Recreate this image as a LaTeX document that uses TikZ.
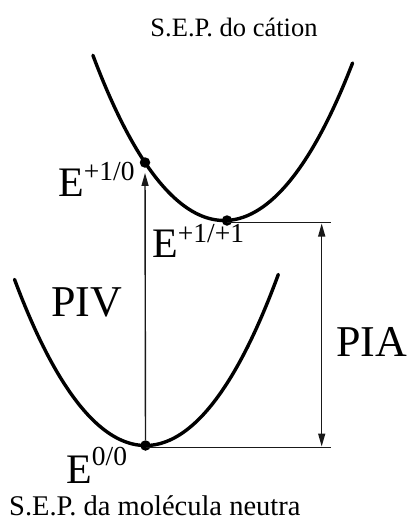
\documentclass[tikz,border=0pt]{standalone}
\usepackage{fontspec}
\setmainfont{Liberation Serif}
\usetikzlibrary{arrows.meta}
\begin{document}
\begin{tikzpicture}[x=1pt,y=-1pt,
  curve/.style={line width=3.4pt, line cap=round},
  thinline/.style={line width=1.4pt, draw=black!90},
  dot/.style={circle, fill=black, inner sep=0pt, minimum size=10.5pt},
  tip/.style={-{Triangle[length=13pt,width=7pt]}},
  dtip/.style={{Triangle[length=13pt,width=7pt]}-{Triangle[length=13pt,width=7pt]}},
  biglbl/.style={anchor=base west, inner sep=0pt, font=\fontsize{42}{42}\selectfont},
  sep/.style={inner sep=0pt, font=\fontsize{26.5}{26.5}\selectfont}]
\useasboundingbox (0,0) rectangle (412,525);
% potential energy surfaces
\draw[curve] plot[domain=-1.313:1.285, samples=120, smooth] ({224.2+100*\x}, {220.5-(90.5*\x*\x+3.1*\x*\x*\x*\x)});
\draw[curve] plot[domain=-1.31:1.33, samples=120, smooth] ({145.5+100*\x}, {445.5-(91.5*\x*\x+3.1*\x*\x*\x*\x)});
% points
\node[dot] (d10) at (145,162.5) {};
\node[dot] (d11) at (227,220.5) {};
\node[dot] (d00) at (145.5,445.5) {};
% reference lines
\coordinate (r1) at (331,222.5);
\coordinate (r0) at (331,447.5);
\draw[thinline] (d11.center |- r1) -- (r1);
\draw[thinline] (d00.center |- r0) -- (r0);
% PIV arrow
\draw[thinline, tip, shorten >=5pt] (d00) -- (d10);
% PIA arrow
\coordinate (pa1) at (321.7,223.5);
\coordinate (pa0) at (321.7,446.5);
\draw[thinline, dtip] (pa1) -- (pa0);
% labels
\node[biglbl] (le10) at (58,196) {E\raisebox{16pt}{\fontsize{27.5}{27.5}\selectfont +1/0}};
\node[biglbl] (le11) at (152,257) {E\raisebox{15pt}{\fontsize{27.5}{27.5}\selectfont +1/+1}};
\node[biglbl] (le00) at (66,483) {E\raisebox{18pt}{\fontsize{27.5}{27.5}\selectfont 0/0}};
\node[anchor=base west, inner sep=0pt, font=\fontsize{44}{44}\selectfont] (piv) at (51,316) {PIV};
\node[anchor=base west, inner sep=0pt, font=\fontsize{44}{44}\selectfont] (pia) at (336,356) {PIA};
\node[sep, anchor=base] (top) at (234,36) {S.E.P. do cátion};
\node[sep, anchor=base west, font=\fontsize{28.5}{28.5}\selectfont] (bot) at (9,515) {S.E.P. da molécula neutra};
\end{tikzpicture}
\end{document}
